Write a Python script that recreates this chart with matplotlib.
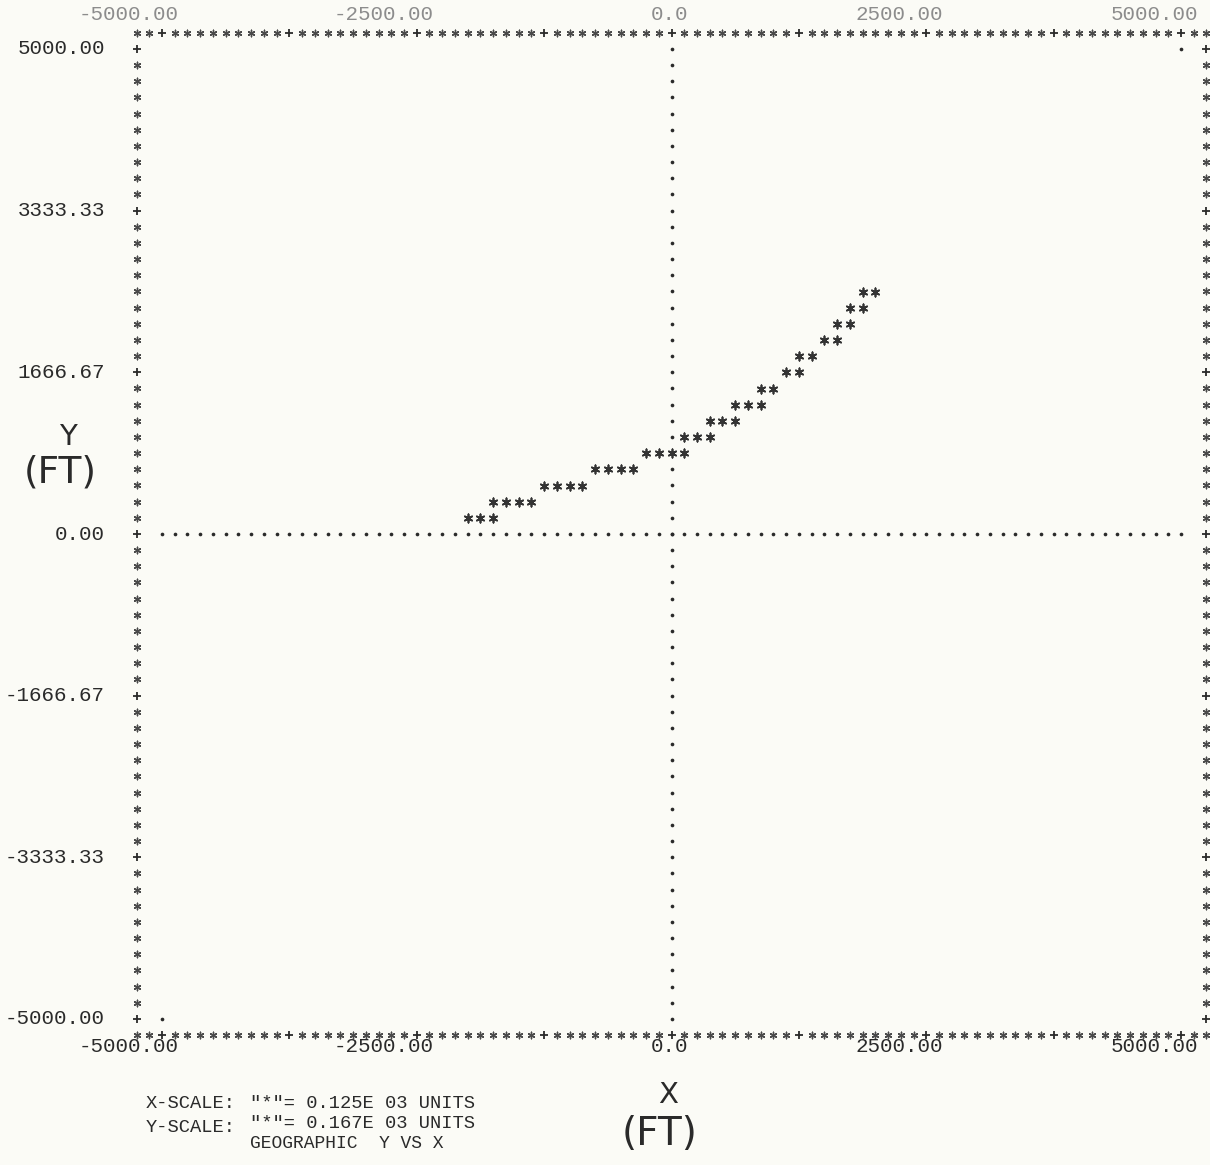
import numpy as np
import matplotlib
matplotlib.use("Agg")
import matplotlib.pyplot as plt
from matplotlib.transforms import offset_copy

# ---- data (feet) ----
x_ft = [-2000, -1875, -1750,
        -1750, -1625, -1500, -1375,
        -1250, -1125, -1000, -875,
        -750, -625, -500, -375,
        -250, -125, 0, 125,
        125, 250, 375,
        375, 500, 625,
        625, 750, 875,
        875, 1000,
        1125, 1250,
        1250, 1375,
        1500, 1625,
        1625, 1750,
        1750, 1875,
        1875, 2000]
y_ft = [166.67, 166.67, 166.67,
        333.33, 333.33, 333.33, 333.33,
        500.00, 500.00, 500.00, 500.00,
        666.67, 666.67, 666.67, 666.67,
        833.33, 833.33, 833.33, 833.33,
        1000.00, 1000.00, 1000.00,
        1166.67, 1166.67, 1166.67,
        1333.33, 1333.33, 1333.33,
        1500.00, 1500.00,
        1666.67, 1666.67,
        1833.33, 1833.33,
        2000.00, 2000.00,
        2166.67, 2166.67,
        2333.33, 2333.33,
        2500.00, 2500.00]

x_ticks = [-5000, -2500, 0, 2500, 5000]
x_tick_labels = ["-5000.00", "-2500.00", "0.0", "2500.00", "5000.00"]
y_ticks = [5000, 3333.33, 1666.67, 0, -1666.67, -3333.33, -5000]
y_tick_labels = ["5000.00", "3333.33", "1666.67", "0.00", "-1666.67", "-3333.33", "-5000.00"]
corner_x = [-5000, 5000]
corner_y = [-5000, 5000]

X_STEP = 125.0      # "*" = 0.125E 03 units
Y_STEP = 166.67     # "*" = 0.167E 03 units
XMIN, XMAX, YMIN, YMAX = -5000, 5000, -5000, 5000

BG = "#fbfbf6"
INK = "#2a2a2a"
GREY = "#8c8c8c"

W, H = 1210, 1165
fig = plt.figure(figsize=(W / 100, H / 100), dpi=100, facecolor=BG)
L, R, T, B = 162, 1181, 49, 1019
ax = fig.add_axes([L / W, (H - B) / H, (R - L) / W, (B - T) / H])
ax.set_xlim(XMIN, XMAX)
ax.set_ylim(YMIN, YMAX)
ax.axis("off")
ax.set_facecolor(BG)

star = (6, 2, 0)

# ---- frame made of printer characters ----
ncols = int(round((XMAX - XMIN) / X_STEP))
nrows = int(round((YMAX - YMIN) / Y_STEP))
cols = np.arange(-2, ncols + 3)
rows = np.arange(-1, nrows + 2)
bx = XMIN + cols * X_STEP
by = YMIN + rows * Y_STEP
top_y, bot_y = YMAX + Y_STEP, YMIN - Y_STEP
left_x, right_x = XMIN - 2 * X_STEP, XMAX + 2 * X_STEP

plus_c = (cols % 10 == 0) & (cols >= 0) & (cols <= ncols)
plus_r = (rows % 10 == 0) & (rows >= 0) & (rows <= nrows)

kw_star = dict(marker=star, s=22, linewidths=1.0, color="#4a4a4a", clip_on=False, zorder=3)
kw_plus = dict(marker="+", s=40, linewidths=1.3, color=INK, clip_on=False, zorder=3)
for yy in (top_y, bot_y):
    ax.scatter(bx[~plus_c], np.full((~plus_c).sum(), yy), **kw_star)
    ax.scatter(bx[plus_c], np.full(plus_c.sum(), yy), **kw_plus)
inner = (rows >= 0) & (rows <= nrows)
for xx in (left_x, right_x):
    m = inner & ~plus_r
    ax.scatter(np.full(m.sum(), xx), by[m], **kw_star)
    ax.scatter(np.full(plus_r.sum(), xx), by[plus_r], **kw_plus)

# ---- zero axes as dotted rows/columns ----
zx = XMIN + np.arange(0, ncols + 1) * X_STEP
zy = YMIN + np.arange(0, nrows + 1) * Y_STEP
ax.scatter(zx, np.zeros_like(zx), marker="o", s=7, color=INK, linewidths=0, zorder=2, clip_on=False)
ax.scatter(np.zeros_like(zy), zy, marker="o", s=7, color=INK, linewidths=0, zorder=2, clip_on=False)
ax.scatter(corner_x, corner_y, marker="o", s=7, color=INK, linewidths=0, zorder=2, clip_on=False)

# ---- data points ----
ax.scatter(x_ft, y_ft, marker=star, s=36, linewidths=1.25, color="#333333", zorder=4)

# ---- tick labels ----
mono = "Liberation Mono"
for v, lab in zip(x_ticks, x_tick_labels):
    tr_b = offset_copy(ax.transData, fig=fig, x=17, y=-28, units="dots")
    ax.text(v, YMIN, lab, transform=tr_b, ha="right", va="center",
            family=mono, fontsize=15, color=INK)
    tr_t = offset_copy(ax.transData, fig=fig, x=17, y=34, units="dots")
    ax.text(v, YMAX, lab, transform=tr_t, ha="right", va="center",
            family=mono, fontsize=15, color=GREY)
for v, lab in zip(y_ticks, y_tick_labels):
    tr = offset_copy(ax.transData, fig=fig, x=-57, y=0, units="dots")
    ax.text(XMIN, v, lab, transform=tr, ha="right", va="center",
            family=mono, fontsize=15, color=INK)

# ---- axis titles ----
fig.text(68 / W, 1 - 437 / H, "Y", ha="center", va="center", fontsize=21, color=INK)
fig.text(60 / W, 1 - 473 / H, "(FT)", ha="center", va="center", fontsize=27, color=INK)
fig.text(668 / W, 1 - 1095 / H, "X", ha="center", va="center", fontsize=21, color=INK)
fig.text(660 / W, 1 - 1134 / H, "(FT)", ha="center", va="center", fontsize=28, color=INK)

# ---- scale notes ----
fs = 13.5
fig.text(146 / W, 1 - 1103 / H, "X-SCALE:", ha="left", va="center", family=mono, fontsize=fs, color=INK)
fig.text(250 / W, 1 - 1103 / H, '"*"= 0.125E 03 UNITS', ha="left", va="center", family=mono, fontsize=fs, color=INK)
fig.text(146 / W, 1 - 1128 / H, "Y-SCALE:", ha="left", va="center", family=mono, fontsize=fs, color=INK)
fig.text(250 / W, 1 - 1124 / H, '"*"= 0.167E 03 UNITS', ha="left", va="center", family=mono, fontsize=fs, color=INK)
fig.text(250 / W, 1 - 1143 / H, "GEOGRAPHIC  Y VS X", ha="left", va="center", family=mono, fontsize=13, color=INK)

fig.savefig("out.png", dpi=100, facecolor=BG)
